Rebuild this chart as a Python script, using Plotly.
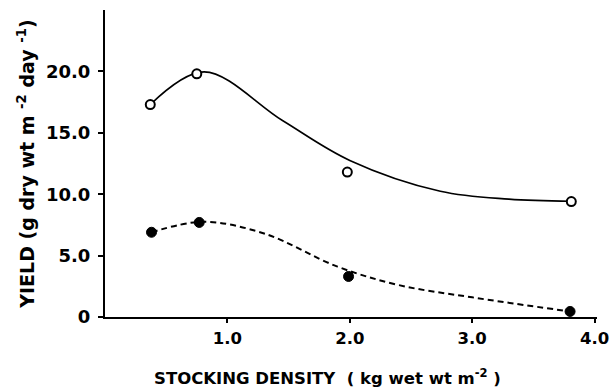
import plotly.graph_objects as go

# Measured data points
density_open = [0.37, 0.75, 1.98, 3.81]
yield_open = [17.3, 19.8, 11.8, 9.4]
density_filled = [0.38, 0.77, 1.99, 3.80]
yield_filled = [6.9, 7.7, 3.3, 0.45]

# Fitted curves
curve_open_x = [0.37, 0.81, 1.45, 2.0, 2.74, 3.3, 3.81]
curve_open_y = [17.3, 19.96, 16.0, 12.75, 10.24, 9.6, 9.43]
curve_filled_x = [0.38, 0.80, 1.3, 1.9, 2.4, 3.0, 3.80]
curve_filled_y = [6.9, 7.75, 6.8, 4.1, 2.6, 1.6, 0.45]

x_ticks = [1.0, 2.0, 3.0, 4.0]
x_ticklabels = ["1.0", "2.0", "3.0", "4.0"]
y_ticks = [0, 5, 10, 15, 20]
y_ticklabels = ["0", "5.0", "10.0", "15.0", "20.0"]

FONT = "DejaVu Sans"

fig = go.Figure()
fig.add_trace(go.Scatter(x=curve_open_x, y=curve_open_y, mode="lines",
                         line=dict(color="black", width=1.6, shape="spline", smoothing=1),
                         hoverinfo="skip"))
fig.add_trace(go.Scatter(x=curve_filled_x, y=curve_filled_y, mode="lines",
                         line=dict(color="black", width=2, dash="6px,4px", shape="spline", smoothing=1),
                         hoverinfo="skip"))
fig.add_trace(go.Scatter(x=density_open, y=yield_open, mode="markers",
                         marker=dict(symbol="circle", size=9, color="white",
                                     line=dict(color="black", width=2))))
fig.add_trace(go.Scatter(x=density_filled, y=yield_filled, mode="markers",
                         marker=dict(symbol="circle", size=10, color="black",
                                     line=dict(color="black", width=1))))

fig.update_layout(
    width=612, height=387,
    margin=dict(l=105, r=15, t=10, b=70),
    paper_bgcolor="white", plot_bgcolor="white",
    showlegend=False,
    font=dict(family=FONT, color="black"),
    xaxis=dict(range=[0, 4.02], tickvals=x_ticks, ticktext=[f"<b>{t}</b>" for t in x_ticklabels],
               showgrid=False, zeroline=False, showline=True, linecolor="black", linewidth=2,
               ticks="outside", ticklen=4, tickwidth=1.5, tickcolor="black",
               ticklabelstandoff=1, automargin=False,
               tickfont=dict(size=16.5, family=FONT)),
    yaxis=dict(range=[0, 25], tickvals=y_ticks, ticktext=[f"<b>{t}</b>" for t in y_ticklabels],
               showgrid=False, zeroline=False, showline=True, linecolor="black", linewidth=2,
               ticks="outside", ticklen=5, tickwidth=1.5, tickcolor="black",
               ticklabelstandoff=4, automargin=False,
               tickfont=dict(size=18, family=FONT),
               title=dict(text="<b>YIELD (g dry wt m <sup>-2</sup> day <sup>-1</sup>)</b>",
                          font=dict(size=19, family=FONT), standoff=6)),
    annotations=[dict(text="<b>STOCKING DENSITY  ( kg wet wt m<sup>-2</sup> )</b>",
                      xref="paper", yref="paper", x=0.453, y=-0.195,
                      xanchor="center", yanchor="middle", showarrow=False,
                      font=dict(size=16.5, family=FONT, color="black"))],
)

fig.write_html("out.html")
